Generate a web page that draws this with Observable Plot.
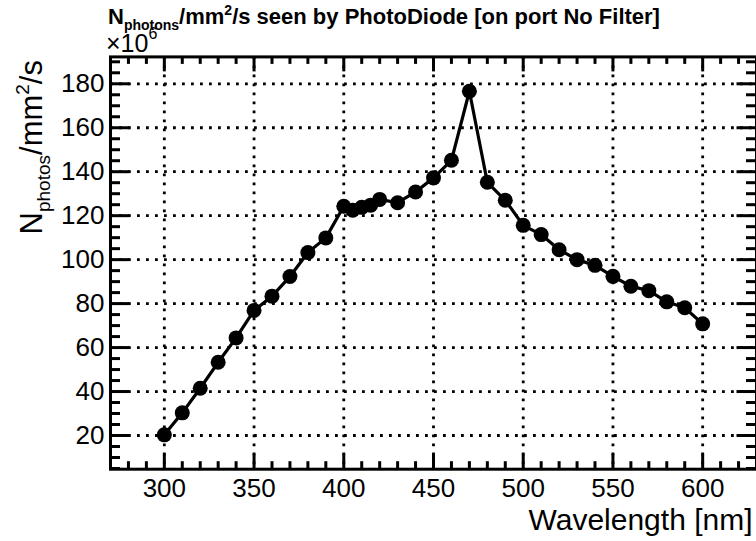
<!DOCTYPE html>
<html>
<head>
<meta charset="utf-8">
<script src="https://cdn.jsdelivr.net/npm/d3@7"></script>
<script src="https://cdn.jsdelivr.net/npm/@observablehq/plot@0.6"></script>
<style>
  html, body { margin: 0; padding: 0; background: #fff; }
  #chart { width: 756px; height: 541px; }
</style>
</head>
<body>
<div id="chart"></div>
<script>
// ---- data ----
const wavelength = [300, 310, 320, 330, 340, 350, 360, 370, 380, 390,
                    400, 405, 410, 415, 420, 430, 440, 450, 460, 470,
                    480, 490, 500, 510, 520, 530, 540, 550, 560, 570,
                    580, 590, 600];
const photons = [20.3, 30.3, 41.5, 53.3, 64.4, 76.9, 83.4, 92.3, 103.2, 109.9,
                 124.3, 122.5, 123.8, 124.8, 127.4, 125.9, 130.8, 137.2, 145.2, 176.6,
                 135.2, 127.0, 115.6, 111.4, 104.5, 100.0, 97.4, 92.4, 87.9, 85.9,
                 80.8, 78.1, 70.8];
const xTicks = [300, 350, 400, 450, 500, 550, 600];
const yTicks = [20, 40, 60, 80, 100, 120, 140, 160, 180];
const xMinorStep = 10;
const yMinorStep = 5;
const titleText = "/s seen by PhotoDiode [on port No Filter]";
const xLabel = "Wavelength [nm]";

const data = wavelength.map((w, i) => ({w, n: photons[i]}));

// ROOT-style auto range: 10% padding around data
const xr = d3.extent(wavelength), yr = d3.extent(photons);
const xDom = [xr[0] - 0.1 * (xr[1] - xr[0]), xr[1] + 0.1 * (xr[1] - xr[0])];
const yDom = [yr[0] - 0.1 * (yr[1] - yr[0]), yr[1] + 0.1 * (yr[1] - yr[0])];

const W = 756, H = 541, mL = 110, mR = 0, mT = 56.4, mB = 72.3;
const xPer = (W - mL - mR) / (xDom[1] - xDom[0]);
const yPer = (H - mT - mB) / (yDom[1] - yDom[0]);

const xMinor = d3.range(Math.ceil(xDom[0] / xMinorStep) * xMinorStep, xDom[1], xMinorStep).filter(v => !xTicks.includes(v));
const yMinor = d3.range(Math.ceil(yDom[0] / yMinorStep) * yMinorStep, yDom[1], yMinorStep).filter(v => !yTicks.includes(v));

const xMajLen = 15 / yPer, xMinLen = 7.5 / yPer;   // x-axis ticks (vertical), in y units
const yMajLen = 19.5 / xPer, yMinLen = 10 / xPer;  // y-axis ticks (horizontal), in x units

const tickStyle = {stroke: "black", strokeWidth: 3};
const grid = {stroke: "black", strokeWidth: 2.8, strokeDasharray: "2.8,6.2"};

const plot = Plot.plot({
  width: W, height: H,
  marginLeft: mL, marginRight: mR, marginTop: mT, marginBottom: mB,
  style: {fontFamily: "'Liberation Sans', Arial, sans-serif", background: "white", color: "black"},
  x: {domain: xDom},
  y: {domain: yDom},
  marks: [
    // dotted grid
    Plot.ruleX(xTicks, {x: d => d, ...grid}),
    Plot.ruleY(yTicks, {y: d => d, ...grid}),
    // inward ticks: bottom / top
    Plot.ruleX(xTicks, {x: d => d, y1: yDom[0], y2: yDom[0] + xMajLen, ...tickStyle}),
    Plot.ruleX(xMinor, {x: d => d, y1: yDom[0], y2: yDom[0] + xMinLen, ...tickStyle}),
    Plot.ruleX(xTicks, {x: d => d, y1: yDom[1], y2: yDom[1] - xMajLen, ...tickStyle}),
    Plot.ruleX(xMinor, {x: d => d, y1: yDom[1], y2: yDom[1] - xMinLen, ...tickStyle}),
    // inward ticks: left / right
    Plot.ruleY(yTicks, {y: d => d, x1: xDom[0], x2: xDom[0] + yMajLen, ...tickStyle}),
    Plot.ruleY(yMinor, {y: d => d, x1: xDom[0], x2: xDom[0] + yMinLen, ...tickStyle}),
    Plot.ruleY(yTicks, {y: d => d, x1: xDom[1], x2: xDom[1] - yMajLen, ...tickStyle}),
    Plot.ruleY(yMinor, {y: d => d, x1: xDom[1], x2: xDom[1] - yMinLen, ...tickStyle}),
    Plot.frame({stroke: "black", strokeWidth: 3}),
    // tick labels
    Plot.axisX(xTicks, {tickSize: 0, tickPadding: 9, fontSize: 26, label: null}),
    Plot.axisY(yTicks, {tickSize: 0, tickPadding: 6, fontSize: 26, label: null}),
    // data
    Plot.line(data, {x: "w", y: "n", stroke: "black", strokeWidth: 3.2}),
    Plot.dot(data, {x: "w", y: "n", r: 7.5, fill: "black", stroke: "none"}),
    // x axis title
    Plot.text([xLabel], {text: d => d, frameAnchor: "bottom-right", textAnchor: "end", dx: -4, dy: 61, fontSize: 30, lineAnchor: "bottom"})
  ]
});

const svg = d3.select(plot);
const FF = "'Liberation Sans', Arial, sans-serif";
// Title
const t = svg.append("text").attr("x", 108).attr("y", 24).attr("text-anchor", "start")
  .attr("font-size", 22).attr("font-weight", "bold").attr("fill", "black")
  .attr("font-family", FF);
t.append("tspan").text("N");
t.append("tspan").attr("font-size", 14).attr("dy", 6).text("photons");
t.append("tspan").attr("dy", -6).text("/mm");
t.append("tspan").attr("font-size", 14).attr("dy", -9).text("2");
t.append("tspan").attr("dy", 9).text(titleText);

// exponent
const e = svg.append("text").attr("x", 106).attr("y", 52).attr("text-anchor", "start")
  .attr("font-size", 25).attr("fill", "black")
  .attr("font-family", FF);
e.append("tspan").text("\u00D710");
e.append("tspan").attr("font-size", 16).attr("dy", -13).text("6");

// y axis title (rotated)
const yl = svg.append("text").attr("transform", "translate(42,60) rotate(-90)")
  .attr("text-anchor", "end").attr("font-size", 31).attr("fill", "black")
  .attr("font-family", FF);
yl.append("tspan").text("N");
yl.append("tspan").attr("font-size", 19).attr("dy", 8).text("photos");
yl.append("tspan").attr("dy", -8).text("/mm");
yl.append("tspan").attr("font-size", 19).attr("dy", -13).text("2");
yl.append("tspan").attr("dy", 13).text("/s");

document.getElementById("chart").appendChild(plot);
</script>
</body>
</html>
